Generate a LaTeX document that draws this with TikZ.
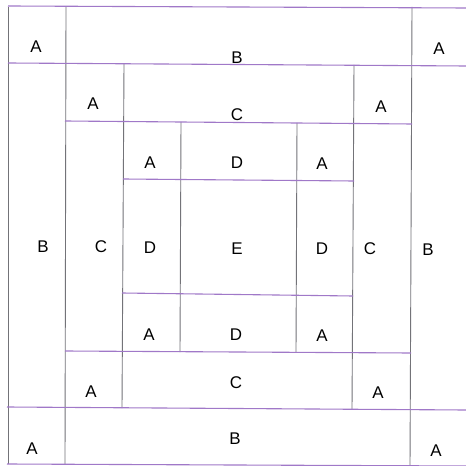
\documentclass[tikz,border=0pt]{standalone}
\usepackage{fontspec}
\setmainfont{Liberation Sans}
\definecolor{hline}{RGB}{160,120,200}
\definecolor{vline}{RGB}{115,115,120}
\begin{document}
\begin{tikzpicture}[x=1bp,y=-1bp,
  hl/.style={draw=hline,line width=1.1bp},
  vl/.style={draw=vline,line width=0.9bp},
  lbl/.style={font=\fontsize{17}{17}\selectfont,inner sep=0pt,text=black}]
\useasboundingbox (0,0) rectangle (466,466);
\fill[white] (0,0) rectangle (466,466);
% verticals
\draw[vl] (8,7) -- (8,464);
\draw[vl] (66,7) -- (65,464);
\draw[vl] (412,7) -- (410,466);
\draw[vl] (124,64) -- (122,408);
\draw[vl] (354,65) -- (352,409);
\draw[vl] (181,122) -- (180,352);
\draw[vl] (297,123) -- (296,352);
% horizontals
\draw[hl] (8,6) -- (466,8);
\draw[hl] (8,63) -- (466,66);
\draw[hl] (65,121) -- (412,124);
\draw[hl] (123,179) -- (354,181);
\draw[hl] (122,293) -- (353,296);
\draw[hl] (65,351) -- (411,353);
\draw[hl] (7,407) -- (466,410);
\draw[hl] (7,464) -- (466,466);
% labels
\node[lbl] (a1) at (36,47) {A};
\node[lbl] (b1) at (237,58) {B};
\node[lbl] (a2) at (439,49) {A};
\node[lbl] (a3) at (93,104) {A};
\node[lbl] (c1) at (237,115) {C};
\node[lbl] (a4) at (381,107) {A};
\node[lbl] (a5) at (150,163) {A};
\node[lbl] (d1) at (237,163) {D};
\node[lbl] (a6) at (322,164) {A};
\node[lbl] (b2) at (43,247) {B};
\node[lbl] (c2) at (101,247) {C};
\node[lbl] (d2) at (150,248) {D};
\node[lbl] (e) at (237,249) {E};
\node[lbl] (d3) at (322,249) {D};
\node[lbl] (c3) at (370,249) {C};
\node[lbl] (b3) at (428,250) {B};
\node[lbl] (a7) at (149,335) {A};
\node[lbl] (d4) at (236,335) {D};
\node[lbl] (a8) at (322,336) {A};
\node[lbl] (a9) at (91,392) {A};
\node[lbl] (c4) at (236,383) {C};
\node[lbl] (a10) at (378,393) {A};
\node[lbl] (a11) at (32,449) {A};
\node[lbl] (b4) at (235,439) {B};
\node[lbl] (a12) at (436,451) {A};
\end{tikzpicture}
\end{document}
